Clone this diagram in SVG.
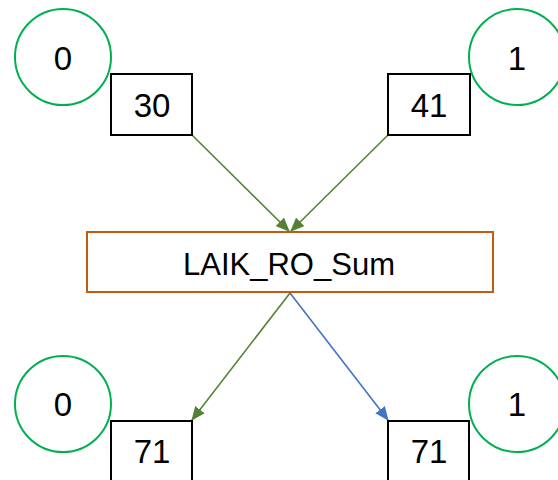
<svg xmlns="http://www.w3.org/2000/svg" width="558" height="480" viewBox="0 0 558 480">
  <style>
    .rank { fill: #ffffff; stroke: #00B050; stroke-width: 2; }
    .val { fill: #ffffff; stroke: #000000; stroke-width: 2; }
    .op { fill: #ffffff; stroke: #C55A11; stroke-width: 2; }
    .lbl { font-family: "Liberation Sans", Arial, sans-serif; font-size: 33px; fill: #000000; text-anchor: middle; }
    .big { font-size: 31px; }
    .green { stroke: #548235; stroke-width: 1.6; fill: none; marker-end: url(#headGreen); }
    .blue { stroke: #4472C4; stroke-width: 1.6; fill: none; marker-end: url(#headBlue); }
  </style>
  <defs>
    <marker id="headGreen" markerWidth="14" markerHeight="12" refX="13" refY="6" orient="auto" markerUnits="userSpaceOnUse">
      <path d="M0,0 L14,6 L0,12 Z" fill="#548235"/>
    </marker>
    <marker id="headBlue" markerWidth="14" markerHeight="12" refX="13" refY="6" orient="auto" markerUnits="userSpaceOnUse">
      <path d="M0,0 L14,6 L0,12 Z" fill="#4472C4"/>
    </marker>
  </defs>

  <rect width="558" height="480" fill="#ffffff"/>

  <!-- connectors -->
  <g id="connectors">
    <line class="green" x1="192" y1="135" x2="289" y2="231"/>
    <line class="green" x1="388" y1="135" x2="291" y2="231"/>
    <line class="green" x1="290" y1="293" x2="192" y2="420"/>
    <line class="blue" x1="290" y1="293" x2="388" y2="420"/>
  </g>

  <!-- top row -->
  <g id="rank0-top">
    <circle class="rank" cx="63" cy="57" r="48"/>
    <text class="lbl" x="63" y="70">0</text>
  </g>
  <g id="val30">
    <rect class="val" x="111" y="74" width="81" height="61"/>
    <text class="lbl" x="152" y="117">30</text>
  </g>
  <g id="rank1-top">
    <circle class="rank" cx="517" cy="57" r="48"/>
    <text class="lbl" x="517" y="70">1</text>
  </g>
  <g id="val41">
    <rect class="val" x="388" y="74" width="82" height="61"/>
    <text class="lbl" x="429" y="117">41</text>
  </g>

  <!-- reduction -->
  <g id="sum">
    <rect class="op" x="87" y="232" width="406" height="60"/>
    <text class="lbl big" x="289" y="275">LAIK_RO_Sum</text>
  </g>

  <!-- bottom row -->
  <g id="rank0-bottom">
    <circle class="rank" cx="63" cy="404" r="48"/>
    <text class="lbl" x="63" y="416">0</text>
  </g>
  <g id="val71-left">
    <rect class="val" x="111" y="421" width="81" height="70"/>
    <text class="lbl" x="152" y="463">71</text>
  </g>
  <g id="rank1-bottom">
    <circle class="rank" cx="517" cy="404" r="48"/>
    <text class="lbl" x="517" y="416">1</text>
  </g>
  <g id="val71-right">
    <rect class="val" x="388" y="421" width="81" height="70"/>
    <text class="lbl" x="429" y="463">71</text>
  </g>
</svg>
